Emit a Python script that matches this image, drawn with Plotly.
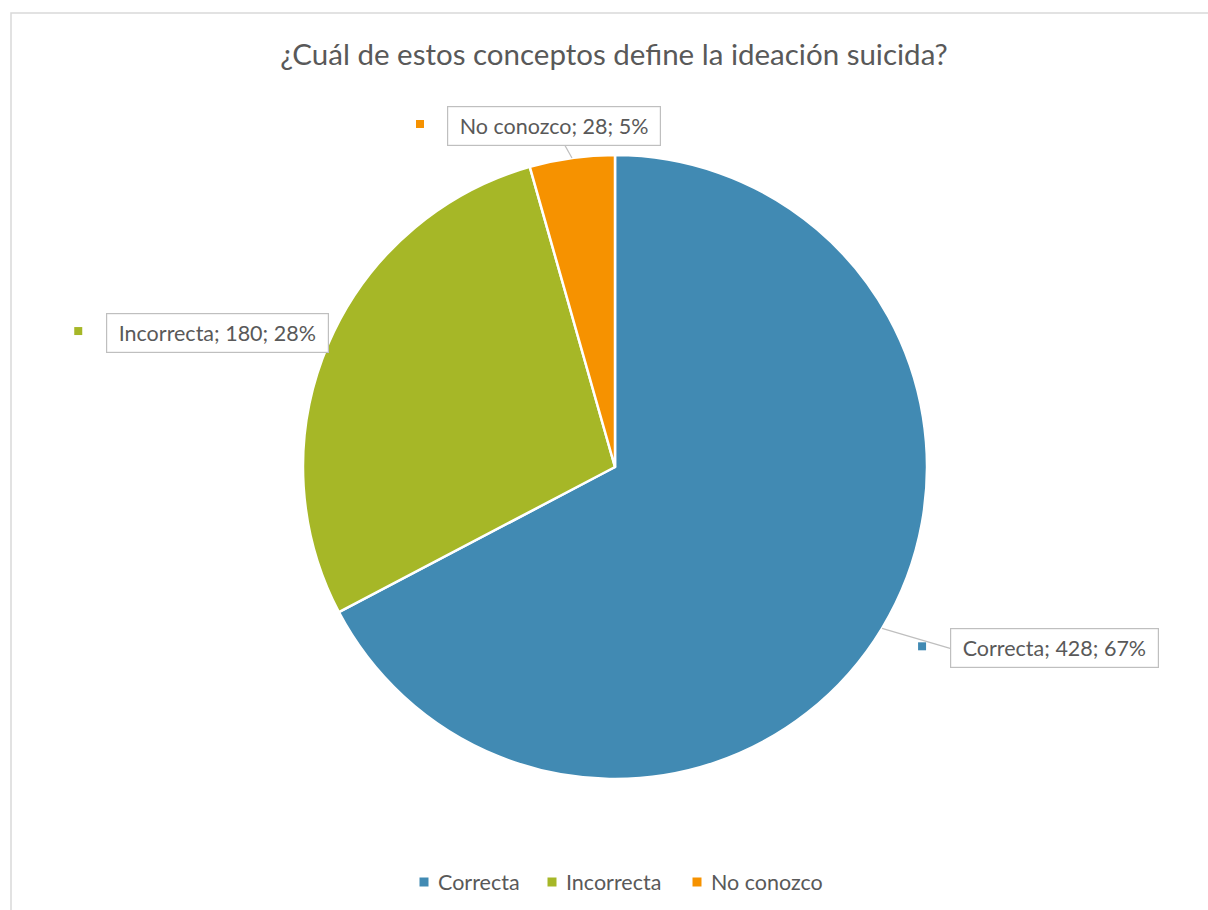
import math
import plotly.graph_objects as go

categories = ["Correcta", "Incorrecta", "No conozco"]
values = [428, 180, 28]
pct_labels = [67, 28, 5]  # as printed on the reference labels
colors = ["#418AB3", "#A6B727", "#F69200"]
title_text = "¿Cuál de estos conceptos define la ideación suicida?"

W, H = 1208, 910
CX, CY, R = 615, 467, 312  # pie centre / radius in pixels (layout)
TXT = "#595959"
FONT = "Lato"
NB = "\u00a0"

fig = go.Figure(go.Pie(
    labels=categories, values=values, sort=False, direction="clockwise", rotation=0,
    marker=dict(colors=colors, line=dict(color="white", width=2.5)),
    textinfo="none", hoverinfo="label+value+percent", showlegend=False,
    domain=dict(x=[(CX - R) / W, (CX + R) / W], y=[(H - CY - R) / H, (H - CY + R) / H]),
))

total = sum(values)
# label box placement (pixels, relative to slice edge point at mid-angle)
offsets = [(68, 20), (-222, -11), (-18, -32)]
anchors = ["left", "left", "center"]
marker_dx = [-28, -28, -134]  # marker position relative to tail point
annotations = []
shapes = []
cum = 0
for cat, v, pct, col, (ox, oy), anc, mdx in zip(categories, values, pct_labels, colors,
                                                 offsets, anchors, marker_dx):
    mid = (cum + v / 2) / total * 2 * math.pi
    cum += v
    px = CX + R * math.sin(mid)
    py = CY - R * math.cos(mid)
    annotations.append(dict(
        x=px / W, y=1 - py / H, xref="paper", yref="paper",
        text=f"{NB}{cat}; {v}; {pct}%{NB}", showarrow=True, arrowhead=0, arrowwidth=1.2,
        arrowcolor="#BFBFBF", ax=ox, ay=oy, xanchor=anc, yanchor="middle",
        bordercolor="#BFBFBF", borderwidth=1.2, borderpad=6, bgcolor="white",
        font=dict(family=FONT, size=21.5, color=TXT),
    ))
    mx = px + ox + mdx
    my = py + oy - 2
    shapes.append(dict(type="rect", xref="paper", yref="paper",
                       x0=(mx - 4) / W, x1=(mx + 4) / W, y0=1 - (my + 4) / H, y1=1 - (my - 4) / H,
                       fillcolor=col, line=dict(width=0)))

# manual legend (layout positions in pixels)
legend_sq_x = [424, 552, 697]
legend_y = 882
for cat, col, sx in zip(categories, colors, legend_sq_x):
    shapes.append(dict(type="rect", xref="paper", yref="paper",
                       x0=(sx - 4.5) / W, x1=(sx + 4.5) / W,
                       y0=1 - (legend_y + 4.5) / H, y1=1 - (legend_y - 4.5) / H,
                       fillcolor=col, line=dict(width=0)))
    annotations.append(dict(x=(sx + 12) / W, y=1 - legend_y / H, xref="paper", yref="paper",
                            text=cat, showarrow=False, xanchor="left", yanchor="middle",
                            font=dict(family=FONT, size=21.5, color=TXT)))

shapes.append(dict(type="rect", xref="paper", yref="paper",
                   x0=11 / W, x1=1.02, y0=-0.02, y1=1 - 13 / H,
                   line=dict(color="#D9D9D9", width=1.5), fillcolor="rgba(0,0,0,0)", layer="below"))

fig.update_layout(
    width=W, height=H, margin=dict(l=0, r=0, t=0, b=0),
    paper_bgcolor="white", plot_bgcolor="white", showlegend=False,
    title=dict(text=title_text, x=614 / W, xanchor="center", y=1 - 55 / H, yanchor="middle",
               font=dict(family=FONT, size=29.5, color=TXT)),
    annotations=annotations, shapes=shapes,
)

fig.write_html("out.html", config={"displayModeBar": False},
               post_script="document.body.style.margin='0';")
